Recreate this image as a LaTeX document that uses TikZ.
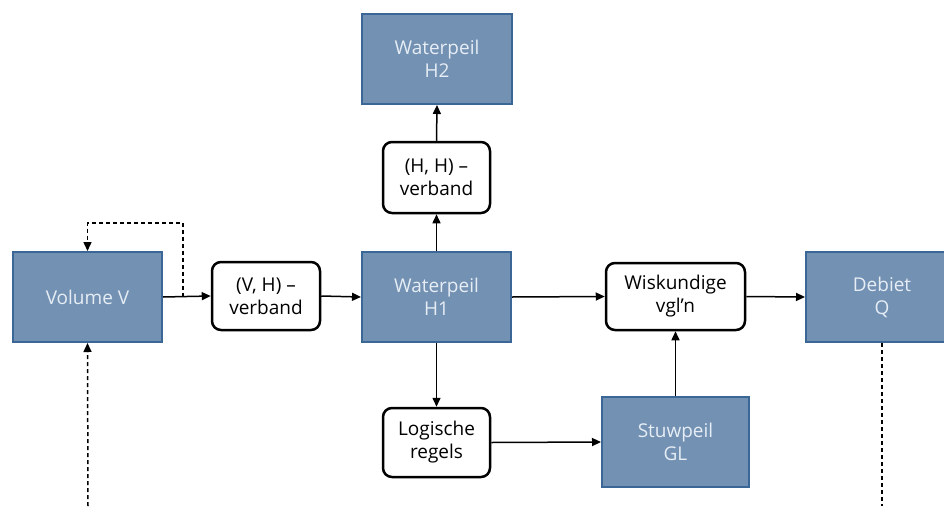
\documentclass[tikz,border=0pt]{standalone}
\usepackage{fontspec}
\setmainfont{Open Sans}
\usetikzlibrary{arrows.meta}
\definecolor{boxfill}{HTML}{7391B3}
\definecolor{boxedge}{HTML}{3B6797}
\definecolor{boxtext}{HTML}{E6EDF5}
\begin{document}
\begin{tikzpicture}[x=1pt,y=-1pt,
  bluebox/.style={rectangle, fill=boxfill, draw=boxedge, line width=2pt, text=boxtext, align=center, inner sep=0pt, font=\fontsize{19}{23}\selectfont},
  roundbox/.style={rectangle, rounded corners=9pt, draw=black, fill=white, line width=2.5pt, align=center, inner sep=0pt, font=\fontsize{19}{23}\selectfont},
  conn/.style={line width=1.5pt, -{Triangle[length=9pt,width=8pt]}},
  dashconn/.style={line width=1.5pt, dash pattern=on 4pt off 3pt},
]
\useasboundingbox (0,0) rectangle (944,506);
\node[bluebox, minimum width=149pt, minimum height=90pt] (V) at (87.5,297) {Volume V};
\node[roundbox, minimum width=108pt, minimum height=68pt] (VH) at (266,296) {(V, H) –\\verband};
\node[bluebox, minimum width=149pt, minimum height=90pt] (H1) at (436.5,297) {Waterpeil\\H1};
\node[bluebox, minimum width=150pt, minimum height=90pt] (H2) at (437,59) {Waterpeil\\H2};
\node[roundbox, minimum width=107pt, minimum height=71pt] (HH) at (436.5,177.5) {(H, H) –\\verband};
\node[roundbox, minimum width=139pt, minimum height=67pt] (W) at (675.5,296.5) {Wiskundige\\vgl’n};
\node[bluebox, minimum width=152pt, minimum height=90pt] (Q) at (882,297) {Debiet\\Q};
\node[roundbox, minimum width=107pt, minimum height=69pt] (L) at (436.5,442.5) {Logische\\regels};
\node[bluebox, minimum width=147pt, minimum height=90pt] (GL) at (675.5,442) {Stuwpeil\\GL};

\draw[conn] (V.east) -- (VH.west);
\draw[conn] (VH.east) -- (H1.west);
\draw[conn] (H1.north) -- (HH.south);
\draw[conn] (HH.north) -- (H2.south);
\draw[conn] (H1.east) -- (W.west);
\draw[conn] (W.east) -- (Q.west);
\draw[conn] (H1.south) -- (L.north);
\draw[conn] (L.east) -- (GL.west);
\draw[conn] (GL.north) -- (W.south);

\coordinate (d1) at (183,297);
\coordinate (d2) at (183,223);
\draw[dashconn, -{Triangle[length=9pt,width=8pt]}] (d1) -- (d2) -| (V.north);
\coordinate (b1) at (88,506);
\draw[dashconn, -{Triangle[length=9pt,width=8pt]}] (b1) -- (V.south);
\coordinate (b2) at (882,506);
\draw[dashconn] (Q.south) -- (b2);
\end{tikzpicture}
\end{document}
